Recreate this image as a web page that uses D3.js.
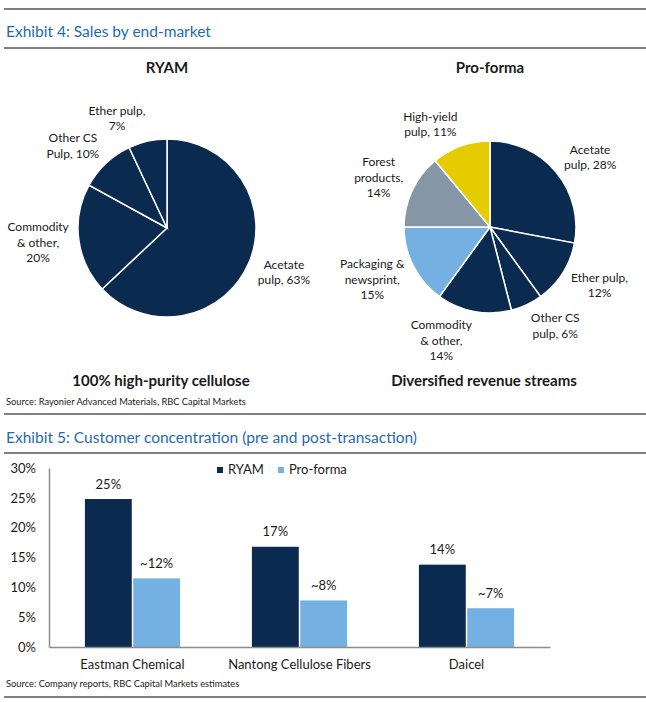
<!DOCTYPE html>
<html>
<head>
<meta charset="utf-8">
<script src="https://cdn.jsdelivr.net/npm/d3@7"></script>
<style>
  body { margin: 0; background: #fff; }
  text { font-family: Lato, "Open Sans", "DejaVu Sans", sans-serif; fill: #1a1a1a; }
</style>
</head>
<body>
<svg id="chart"></svg>
<script>
// exhibit 4 - pies
const ryamLabels = ["Acetate|pulp, 63%", "Commodity|& other,|20%", "Other CS|Pulp, 10%", "Ether pulp,|7%"];
const ryamShares = [63, 20, 10, 7];
const proLabels = ["Acetate|pulp, 28%", "Ether pulp,|12%", "Other CS|pulp, 6%", "Commodity|& other,|14%",
  "Packaging &|newsprint,|15%", "Forest|products,|14%", "High-yield|pulp, 11%"];
const proShares = [28, 12, 6, 14, 15, 14, 11];

// exhibit 5 - bars
const customers = ["Eastman Chemical", "Nantong Cellulose Fibers", "Daicel"];
const seriesNames = ["RYAM", "Pro-forma"];
const ryamConc = [24.8, 16.8, 13.8];
const proConc = [11.5, 7.8, 6.5];
const ryamConcLabels = ["25%", "17%", "14%"];
const proConcLabels = ["~12%", "~8%", "~7%"];
const yTicks = [0, 5, 10, 15, 20, 25, 30];

const navy = "#0b2a50";
const lightBlue = "#74b0e2";
const proColors = [navy, navy, navy, navy, lightBlue, "#8597a7", "#e5cc00"];
const titleBlue = "#1f6bb3";

const width = 646;
const height = 702;

const svg = d3.select("#chart")
  .attr("width", width)
  .attr("height", height);

// grey rules
[9, 48, 414, 453, 697].forEach(y => {
  svg.append("line")
    .attr("x1", 4).attr("x2", width)
    .attr("y1", y).attr("y2", y)
    .attr("stroke", "#808080")
    .attr("stroke-width", 2);
});

svg.append("text")
  .attr("x", 6).attr("y", 36.5)
  .style("font-size", "15.5px")
  .style("fill", titleBlue)
  .text("Exhibit 4: Sales by end-market");

svg.append("text")
  .attr("x", 6).attr("y", 443)
  .style("font-size", "15.5px")
  .style("fill", titleBlue)
  .text("Exhibit 5: Customer concentration (pre and post-transaction)");

function drawPie(cx, cy, r, shares, labels, colors, title, caption) {
  const g = svg.append("g").attr("transform", `translate(${cx},${cy})`);
  const arcs = d3.pie().sort(null).value(d => d)(shares);
  const arc = d3.arc().innerRadius(0).outerRadius(r);

  g.selectAll("path")
    .data(arcs)
    .enter()
    .append("path")
    .attr("d", arc)
    .attr("fill", (d, i) => colors[i])
    .attr("stroke", "#fff")
    .attr("stroke-width", 1.5);

  // labels sit outside the rim, pushed to the side like excel's outside-end
  const lineH = 15.5;
  arcs.forEach((d, i) => {
    const a = (d.startAngle + d.endAngle) / 2;
    const px = (r + 10) * Math.sin(a);
    const py = -(r + 10) * Math.cos(a);
    const lines = labels[i].split("|");
    const t = g.append("text")
      .attr("text-anchor", "middle")
      .style("font-size", "12px");
    lines.forEach(l => t.append("tspan").text(l));
    const w = d3.max(t.selectAll("tspan").nodes(), n => n.getComputedTextLength());
    const h = lines.length * lineH;
    const lx = px + Math.sign(Math.sin(a)) * w / 2;
    const ly = py - Math.cos(a) * h / 2 * 0.85;
    t.selectAll("tspan")
      .attr("x", lx)
      .attr("y", (s, j) => ly - h / 2 + lineH * j + lineH / 2 + 4);
  });

  svg.append("text")
    .attr("x", cx).attr("y", 73)
    .attr("text-anchor", "middle")
    .style("font-size", "15px")
    .style("font-weight", "bold")
    .text(title);

  svg.append("text")
    .attr("x", cx - 6).attr("y", 386)
    .attr("text-anchor", "middle")
    .style("font-size", "15px")
    .style("font-weight", "bold")
    .text(caption);
}

drawPie(167, 228, 89, ryamShares, ryamLabels, ryamShares.map(() => navy), "RYAM", "100% high-purity cellulose");
drawPie(490, 227, 86, proShares, proLabels, proColors, "Pro-forma", "Diversified revenue streams");

svg.append("text")
  .attr("x", 6).attr("y", 405)
  .style("font-size", "9.3px")
  .text("Source: Rayonier Advanced Materials, RBC Capital Markets");

// bar chart
const x0 = d3.scaleBand()
  .domain(customers)
  .range([49, 550])
  .paddingInner(0.43)
  .paddingOuter(0.215);

const x1 = d3.scaleBand()
  .domain(seriesNames)
  .range([0, x0.bandwidth()])
  .paddingInner(0.03);

const y = d3.scaleLinear().domain([0, 30]).range([647, 468]);
const barColor = d3.scaleOrdinal().domain(seriesNames).range([navy, lightBlue]);

const yAxis = svg.append("g")
  .attr("transform", "translate(49,0)")
  .call(d3.axisLeft(y).tickValues(yTicks).tickFormat(d => d + "%").tickSize(0).tickPadding(13));
yAxis.select(".domain").attr("stroke", "#8c8c8c").attr("stroke-width", 1.5);
yAxis.selectAll("text").style("font-size", "13px").style("font-family", null).attr("fill", "#1a1a1a");

const rows = customers.map((c, i) => ({
  name: c,
  values: [
    { key: "RYAM", v: ryamConc[i], label: ryamConcLabels[i] },
    { key: "Pro-forma", v: proConc[i], label: proConcLabels[i] }
  ]
}));

const groups = svg.selectAll(".grp")
  .data(rows)
  .enter()
  .append("g")
  .attr("class", "grp")
  .attr("transform", d => `translate(${x0(d.name)},0)`);

groups.selectAll("rect")
  .data(d => d.values)
  .enter()
  .append("rect")
  .attr("x", d => x1(d.key))
  .attr("y", d => y(d.v))
  .attr("width", x1.bandwidth())
  .attr("height", d => y(0) - y(d.v))
  .attr("fill", d => barColor(d.key));

groups.selectAll(".val")
  .data(d => d.values)
  .enter()
  .append("text")
  .attr("class", "val")
  .attr("x", d => x1(d.key) + x1.bandwidth() / 2)
  .attr("y", d => y(d.v) - 10.5)
  .attr("text-anchor", "middle")
  .style("font-size", "13px")
  .text(d => d.label);

const xAxis = svg.append("g")
  .attr("transform", `translate(0,${y(0)})`)
  .call(d3.axisBottom(x0).tickSize(0).tickSizeOuter(0).tickPadding(12.5));
xAxis.select(".domain").attr("stroke", "#8c8c8c").attr("stroke-width", 1.5);
xAxis.selectAll("text").style("font-size", "13px").style("font-family", null).attr("fill", "#1a1a1a");

// legend
const legend = svg.append("g").attr("transform", "translate(217,467)");
let lx = 0;
seriesNames.forEach(s => {
  legend.append("rect")
    .attr("x", lx).attr("y", 0)
    .attr("width", 6).attr("height", 6)
    .attr("fill", barColor(s));
  const t = legend.append("text")
    .attr("x", lx + 11).attr("y", 6.5)
    .style("font-size", "13px")
    .text(s);
  lx += 11 + t.node().getComputedTextLength() + 14;
});

svg.append("text")
  .attr("x", 6).attr("y", 687)
  .style("font-size", "9.3px")
  .text("Source: Company reports, RBC Capital Markets estimates");
</script>
</body>
</html>
